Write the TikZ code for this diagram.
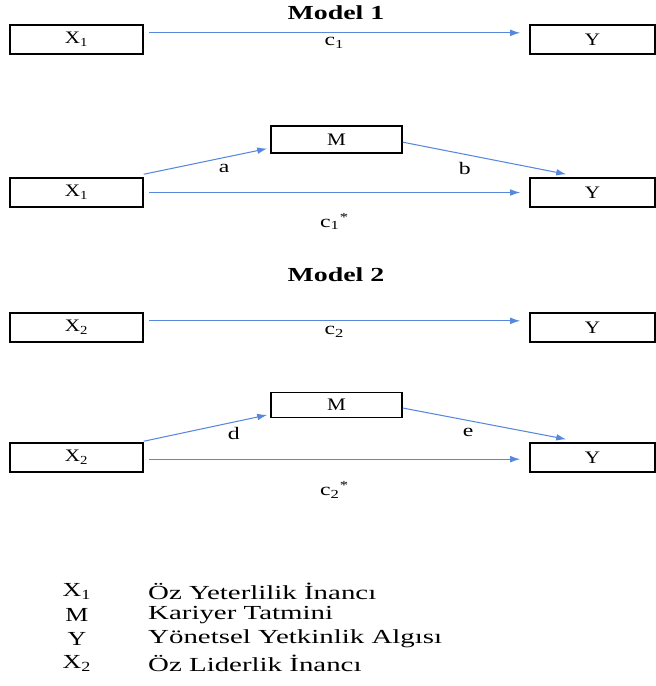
\documentclass[tikz,border=0pt]{standalone}
\usepackage{fontspec}
\setmainfont{Liberation Serif}
\usepackage{graphicx}
\usetikzlibrary{positioning,arrows.meta}
\definecolor{pathblue}{RGB}{88,136,222}
% horizontally stretched text, as in the scanned figure
\newcommand{\wide}[2][1.5]{\scalebox{#1}[1]{#2}}

\begin{document}
\begin{tikzpicture}[x=0.03cm,y=-0.03cm,
    var/.style={draw, line width=1.3pt, minimum width=3.99cm, minimum height=0.87cm, inner sep=0pt, font=\fontsize{15}{17}\selectfont},
    outcome/.style={var, minimum width=3.75cm},
    mediator/.style={var, minimum width=3.93cm, minimum height=0.8cm},
    effect/.style={-{Latex[length=3mm,width=2mm]}, pathblue, line width=0.9pt},
    coef/.style={black, inner sep=0pt, font=\fontsize{15}{17}\selectfont},
    modeltitle/.style={font=\bfseries\fontsize{17}{20}\selectfont},
    legend/.style={inner sep=0pt, font=\fontsize{17}{19}\selectfont}]
    \useasboundingbox (0,0) rectangle (656,686);

    % Model 1: total effect
    \node[modeltitle] (title1) at (336,13) {\wide[1.4]{Model 1}};
    \node[var] (x1) at (76.5,39.5) {\wide[1.2]{X\textsubscript{1}}};
    \node[outcome] (y1) at (592.5,39.5) {\wide[1.2]{Y}};
    \draw[effect] ([xshift=0.15cm,yshift=0.2cm]x1.east) -- ([xshift=-0.27cm,yshift=0.2cm]y1.west)
        node[coef, midway, yshift=-0.3cm] {\wide[1.35]{c\textsubscript{1}}};

    % Model 1: mediation
    \node[mediator] (m1) at (336.5,139.5) {\wide[1.2]{M}};
    \node[var] (x1m) at (76.5,192.5) {\wide[1.2]{X\textsubscript{1}}};
    \node[outcome] (y1m) at (592.5,192.5) {\wide[1.2]{Y}};
    \draw[effect] ([yshift=0.09cm]x1m.north east) -- ([xshift=-0.09cm,yshift=0.15cm]m1.south west)
        node[coef, pos=0.65, yshift=-0.32cm] {\wide[1.35]{a}};
    \draw[effect] ([yshift=-0.08cm]m1.east) -- ([xshift=1.11cm,yshift=0.09cm]y1m.north west)
        node[coef, pos=0.38, yshift=-0.41cm] {\wide[1.35]{b}};
    \draw[effect] ([xshift=0.15cm]x1m.east) -- ([xshift=-0.27cm]y1m.west)
        node[coef, midway, yshift=-0.87cm] {\wide[1.35]{c\textsubscript{1}\textsuperscript{*}}};

    % Model 2: total effect
    \node[modeltitle] (title2) at (336,275) {\wide[1.4]{Model 2}};
    \node[var] (x2) at (76.5,327.5) {\wide[1.2]{X\textsubscript{2}}};
    \node[outcome] (y2) at (592.5,327.5) {\wide[1.2]{Y}};
    \draw[effect] ([xshift=0.15cm,yshift=0.2cm]x2.east) -- ([xshift=-0.27cm,yshift=0.2cm]y2.west)
        node[coef, midway, yshift=-0.33cm] {\wide[1.35]{c\textsubscript{2}}};

    % Model 2: mediation
    \node[mediator, minimum height=0.75cm] (m2) at (336.5,405) {\wide[1.2]{M}};
    \node[var] (x2m) at (76.5,457.5) {\wide[1.2]{X\textsubscript{2}}};
    \node[outcome] (y2m) at (592.5,457.5) {\wide[1.2]{Y}};
    \draw[effect] ([yshift=0.03cm]x2m.north east) -- ([xshift=-0.09cm,yshift=0.1cm]m2.south west)
        node[coef, pos=0.73, yshift=-0.34cm] {\wide[1.35]{d}};
    \draw[effect] ([yshift=-0.09cm]m2.east) -- ([xshift=1.11cm,yshift=0.09cm]y2m.north west)
        node[coef, pos=0.4, yshift=-0.37cm] {\wide[1.35]{e}};
    \draw[effect] ([xshift=0.15cm,yshift=-0.05cm]x2m.east) -- ([xshift=-0.27cm,yshift=-0.05cm]y2m.west)
        node[coef, midway, yshift=-0.93cm] {\wide[1.35]{c\textsubscript{2}\textsuperscript{*}}};

    % Legend
    \foreach \key/\desc [count=\i] in {X\textsubscript{1}/Öz Yeterlilik İnancı, M/Kariyer Tatmini, Y/Yönetsel Yetkinlik Algısı, X\textsubscript{2}/Öz Liderlik İnancı} {
        \node[legend] (key\i) at (77,{567+24*\i}) {\wide[1.3]{\key}};
        \node[legend, anchor=west] (desc\i) at (148,{567+24*\i}) {\wide[1.45]{\desc}};
    }
\end{tikzpicture}
\end{document}
